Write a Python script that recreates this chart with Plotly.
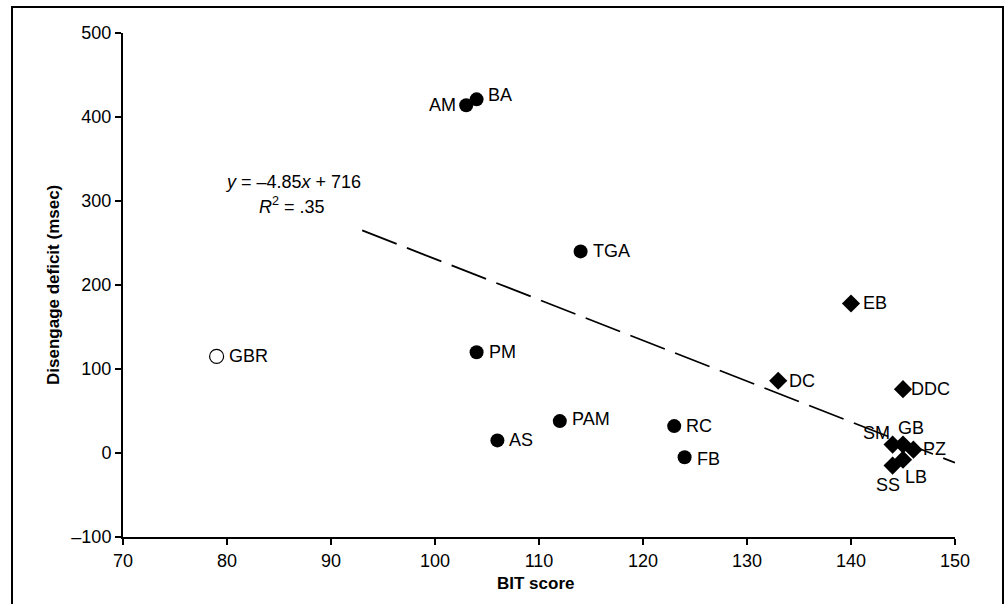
import plotly.graph_objects as go

# ---- data ----
names_circ = ["AM", "BA", "TGA", "PM", "PAM", "AS", "RC", "FB"]
bit_circ = [103, 104, 114, 104, 112, 106, 123, 124]
dis_circ = [414, 421, 240, 120, 38, 15, 32, -5]

names_open = ["GBR"]
bit_open = [79]
dis_open = [115]

names_dia = ["EB", "DC", "DDC", "SM", "GB", "PZ", "SS", "LB"]
bit_dia = [140, 133, 145, 144, 145, 146, 144, 145]
dis_dia = [178, 86, 76, 10, 10, 4, -15, -8]

slope = -4.85
intercept = 716
trend_range = [93, 150]

x_ticks = [70, 80, 90, 100, 110, 120, 130, 140, 150]
y_ticks = [-100, 0, 100, 200, 300, 400, 500]

# label offsets (pixels): name -> (xanchor, xshift, yshift)
label_pos = {
    "AM": ("right", -8, 0), "BA": ("left", 9, 4), "TGA": ("left", 10, 0),
    "PM": ("left", 10, 0), "PAM": ("left", 10, 2), "AS": ("left", 10, 0),
    "RC": ("left", 10, 0), "FB": ("left", 10, -2), "GBR": ("left", 10, 0),
    "EB": ("left", 10, 0), "DC": ("left", 9, 0), "DDC": ("left", 6, 0),
    "SM": ("right", -1, 12), "GB": ("center", 8, 17), "PZ": ("left", 8, 1),
    "SS": ("center", -5, -19), "LB": ("center", 13, -17),
}

FONT = "Liberation Sans, Arial, sans-serif"
FS = 18

W, H = 1005, 604
L, R, T, B = 123, 50, 33, 67
PW, PH = W - L - R, H - T - B


def px_x(p):  # page pixel -> paper x
    return (p - L) / PW


def px_y(p):  # page pixel -> paper y
    return (H - B - p) / PH


fig = go.Figure()

trend_y = [slope * v + intercept for v in trend_range]
fig.add_trace(go.Scatter(
    x=trend_range, y=trend_y, mode="lines",
    line=dict(color="black", width=1.8, dash="37px,11px"),
    hoverinfo="skip", showlegend=False))

fig.add_trace(go.Scatter(
    x=bit_circ, y=dis_circ, mode="markers",
    marker=dict(symbol="circle", size=14, color="black"),
    text=names_circ, showlegend=False))
fig.add_trace(go.Scatter(
    x=bit_open, y=dis_open, mode="markers",
    marker=dict(symbol="circle-open", size=14, color="black", line=dict(width=1.2)),
    text=names_open, showlegend=False))
fig.add_trace(go.Scatter(
    x=bit_dia, y=dis_dia, mode="markers",
    marker=dict(symbol="diamond", size=14, color="black"),
    text=names_dia, showlegend=False))

for nm, xs, ys in zip(names_circ + names_open + names_dia,
                      bit_circ + bit_open + bit_dia,
                      dis_circ + dis_open + dis_dia):
    xa, dx, dy = label_pos[nm]
    fig.add_annotation(x=xs, y=ys, xref="x", yref="y", text=nm, showarrow=False,
                       xanchor=xa, yanchor="middle", xshift=dx, yshift=dy,
                       font=dict(family=FONT, size=FS, color="black"))

# equation
fig.add_annotation(x=px_x(293), y=px_y(182), xref="paper", yref="paper",
                   text="<i>y</i> = –4.85<i>x</i> + 716", showarrow=False,
                   xanchor="center", yanchor="middle",
                   font=dict(family=FONT, size=FS, color="black"))
fig.add_annotation(x=px_x(292), y=px_y(205), xref="paper", yref="paper",
                   text="<i>R</i><sup>2</sup> = .35", showarrow=False,
                   xanchor="center", yanchor="middle",
                   font=dict(family=FONT, size=FS, color="black"))

# axis titles
fig.add_annotation(x=px_x(53), y=px_y(285), xref="paper", yref="paper",
                   text="<b>Disengage deficit (msec)</b>", textangle=-90, showarrow=False,
                   xanchor="center", yanchor="middle",
                   font=dict(family=FONT, size=17, color="black"))
fig.add_annotation(x=px_x(535), y=px_y(583), xref="paper", yref="paper",
                   text="<b>BIT score</b>", showarrow=False,
                   xanchor="center", yanchor="middle",
                   font=dict(family=FONT, size=17, color="black"))

# outer frame
fig.add_shape(type="rect", xref="paper", yref="paper",
              x0=px_x(12), x1=px_x(1003), y0=px_y(640), y1=px_y(7),
              line=dict(color="black", width=2), fillcolor="rgba(0,0,0,0)", layer="below")

axis_common = dict(showgrid=False, zeroline=False, showline=True, linecolor="black",
                   linewidth=2, ticks="outside", ticklen=6, tickwidth=1.5,
                   tickcolor="black", tickfont=dict(family=FONT, size=FS, color="black"))
fig.update_xaxes(range=[70, 150], tickvals=x_ticks, ticktext=[str(v) for v in x_ticks],
                 **axis_common)
fig.update_yaxes(range=[-100, 500], tickvals=y_ticks,
                 ticktext=[("–" + str(-v)) if v < 0 else str(v) for v in y_ticks],
                 **axis_common)

fig.update_layout(width=W, height=H, autosize=False,
                  margin=dict(l=L, r=R, t=T, b=B, pad=0),
                  plot_bgcolor="white", paper_bgcolor="white",
                  showlegend=False, font=dict(family=FONT, color="black"))

fig.write_html("out.html",
               config={"displayModeBar": False},
               post_script="document.body.style.margin='0';"
                           "document.body.style.overflow='hidden';")
